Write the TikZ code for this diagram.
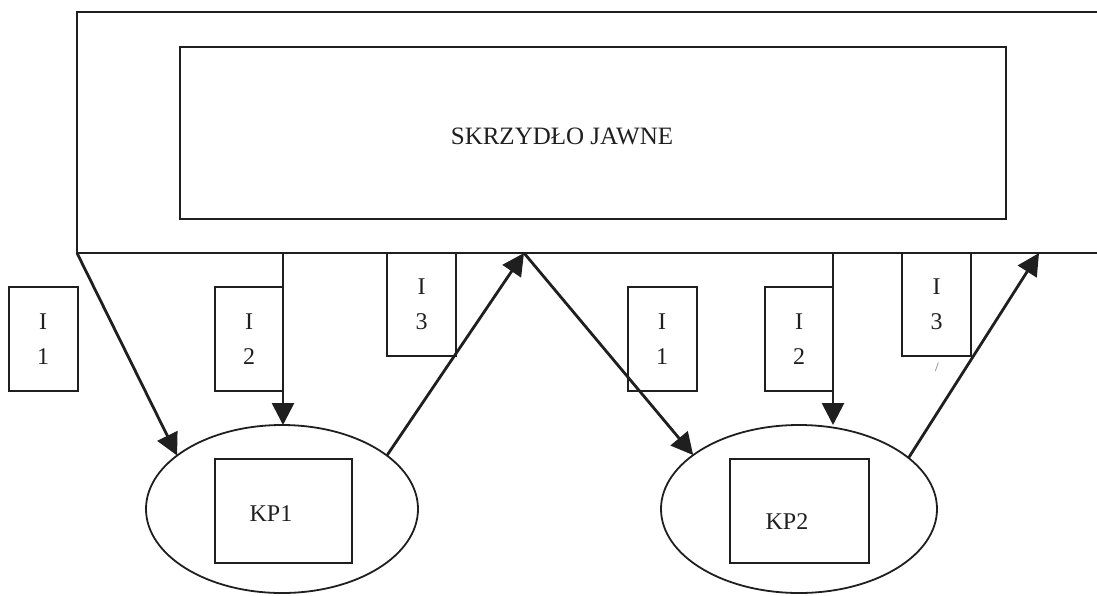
\documentclass[tikz,border=0pt]{standalone}
\usepackage{fontspec}
\setmainfont{Liberation Serif}
\usetikzlibrary{arrows.meta,shapes.geometric}
\begin{document}
\begin{tikzpicture}[x=1pt,y=-1pt,
  box/.style={draw, line width=2pt, inner sep=0pt, outer sep=0pt, color=black!88},
  ibox/.style={box, minimum width=69pt, minimum height=104pt, align=center, font=\fontsize{24}{35}\selectfont},
  kpbox/.style={box, minimum width=138pt, minimum height=104pt},
  oval/.style={draw, ellipse, line width=1.8pt, inner sep=0pt, outer sep=0pt, minimum height=168pt, color=black!88},
  lbl/.style={font=\fontsize{24}{28}\selectfont, inner sep=0pt, text=black!88},
  arr/.style={line width=2.8pt, color=black!88, -{Triangle[length=22pt,width=22pt]}},
]
\clip (0,0) rectangle (1097,595);
\node[box, anchor=north west, minimum width=1100pt, minimum height=241pt] (outer) at (77,12) {};
\node[box, minimum width=826pt, minimum height=172pt] (inner) at (593,133) {};
\node[lbl, font=\fontsize{25}{28}\selectfont] (title) at (562,136) {SKRZYDŁO JAWNE};

\node[ibox] (i1a) at (43,339) {I\\1};
\node[ibox, minimum width=68pt] (i2a) at (249,339) {I\\2};
\node[ibox, minimum height=103pt] (i3a) at (421.5,304.5) {I\\3};
\node[ibox] (i1b) at (662,339) {I\\1};
\node[ibox, minimum width=68pt] (i2b) at (799,339) {I\\2};
\node[ibox, minimum height=103pt] (i3b) at (936.5,304.5) {I\\3};
\node[font=\fontsize{13}{13}\selectfont, text=black!60, inner sep=0pt] (mark) at (937,367) {/};

\node[oval, minimum width=272pt] (e1) at (282,509) {};
\node[oval, minimum width=276pt] (e2) at (799,509) {};
\node[kpbox, minimum width=137pt] (kp1) at (283.5,511) {};
\node[kpbox, minimum width=139pt] (kp2) at (799.5,511) {};
\node[lbl] (kp1t) at (271,514) {KP1};
\node[lbl] (kp2t) at (787,522) {KP2};

\coordinate (apex1) at (524,253);
\coordinate (apex2) at (1039,253);
\draw[arr] (outer.south west) -- (e1.153);
\draw[arr] (i2a.east |- outer.south) -- (i2a.east |- e1.north);
\draw[arr] (e1.27) -- (apex1);
\draw[arr] (apex1) -- (e2.153);
\draw[arr] (i2b.east |- outer.south) -- (i2b.east |- e2.north);
\draw[arr] (e2.25) -- (apex2);
\end{tikzpicture}
\end{document}
